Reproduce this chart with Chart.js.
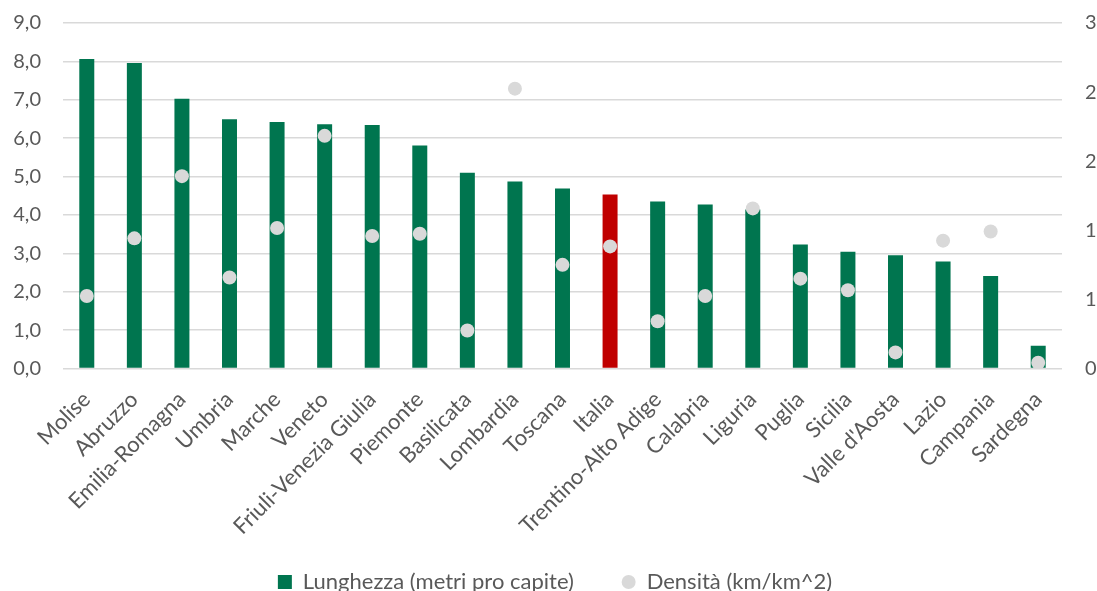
<!DOCTYPE html>
<html>
<head>
<meta charset="utf-8">
<script src="https://cdn.jsdelivr.net/npm/chart.js@4"></script>
<style>
  html, body { margin: 0; padding: 0; background: #fff; }
  #wrap { width: 1097px; height: 591px; }
</style>
</head>
<body>
<div id="wrap"><canvas id="myChart"></canvas></div>
<script>
var regioni = ['Molise', 'Abruzzo', 'Emilia-Romagna', 'Umbria', 'Marche', 'Veneto',
  'Friuli-Venezia Giulia', 'Piemonte', 'Basilicata', 'Lombardia', 'Toscana', 'Italia',
  'Trentino-Alto Adige', 'Calabria', 'Liguria', 'Puglia', 'Sicilia', "Valle d'Aosta",
  'Lazio', 'Campania', 'Sardegna'];
// metri pro capite (asse sinistro)
var lunghezza = [8.06, 7.96, 7.03, 6.49, 6.42, 6.36, 6.34, 5.81, 5.10, 4.87, 4.69, 4.53,
  4.35, 4.27, 4.14, 3.23, 3.04, 2.95, 2.79, 2.41, 0.59];
// km/km^2 (asse destro)
var densita = [0.63, 1.13, 1.67, 0.79, 1.22, 2.02, 1.15, 1.17, 0.33, 2.43, 0.90, 1.06,
  0.41, 0.63, 1.39, 0.78, 0.68, 0.14, 1.11, 1.19, 0.05];
var leftTicks = [0, 9, 1];
var rightTicks = [0, 3, 6];

var verde = '#00754f';
var rosso = '#c00000';
var grigio = '#d9d9d9';

var barColors = [];
for (var i = 0; i < regioni.length; i++) {
  barColors.push(regioni[i] == 'Italia' ? rosso : verde);
}

Chart.defaults.font.family = "Lato, 'Open Sans', sans-serif";
Chart.defaults.color = '#595959';

// sposta la legenda un po' più in basso
var legendShift = {
  id: 'legendShift',
  afterLayout: function (chart) {
    chart.legend.top += 12;
    chart.legend.bottom += 12;
  }
};

var ctx = document.getElementById('myChart').getContext('2d');
var chart = new Chart(ctx, {
  type: 'bar',
  data: {
    labels: regioni,
    datasets: [{
      label: 'Lunghezza (metri pro capite)',
      data: lunghezza,
      backgroundColor: barColors,
      borderWidth: 0,
      barPercentage: 0.315,
      categoryPercentage: 1,
      yAxisID: 'y',
      order: 1
    }, {
      type: 'line',
      label: 'Densità (km/km^2)',
      data: densita,
      showLine: false,
      pointRadius: 7,
      pointHoverRadius: 7,
      pointBackgroundColor: grigio,
      pointBorderWidth: 0,
      backgroundColor: grigio,
      borderColor: grigio,
      yAxisID: 'y2',
      order: 0
    }]
  },
  plugins: [legendShift],
  options: {
    responsive: true,
    maintainAspectRatio: false,
    animation: false,
    layout: { padding: { top: 23, left: 13, right: 0, bottom: 0 }, autoPadding: false },
    plugins: {
      tooltip: { enabled: false },
      legend: {
        position: 'bottom',
        labels: {
          boxWidth: 14,
          boxHeight: 14,
          useBorderRadius: true,
          padding: 14,
          font: { size: 22 },
          generateLabels: function (c) {
            return [
              { text: 'Lunghezza (metri pro capite)      ', fillStyle: verde, strokeStyle: verde, lineWidth: 0, borderRadius: 0, datasetIndex: 0, fontColor: '#595959' },
              { text: 'Densità (km/km^2)', fillStyle: grigio, strokeStyle: grigio, lineWidth: 0, borderRadius: 7, datasetIndex: 1, fontColor: '#595959' }
            ];
          }
        }
      }
    },
    scales: {
      x: {
        grid: { display: false },
        border: { display: false },
        ticks: { font: { size: 22 }, maxRotation: 45, minRotation: 45, autoSkip: false, padding: 10 },
        afterFit: function (scale) {
          scale.paddingLeft = 0;
          scale.paddingRight = 0;
          scale.height = 176.5;
        }
      },
      y: {
        position: 'left',
        min: leftTicks[0],
        max: leftTicks[1],
        ticks: {
          stepSize: leftTicks[2],
          font: { size: 20 },
          padding: 22,
          callback: function (v) { return v.toFixed(1).replace('.', ','); }
        },
        grid: { color: '#d9d9d9', lineWidth: 1.5, drawTicks: false },
        border: { display: false },
        afterFit: function (scale) {
          scale.width = 50;
          scale.paddingTop = 0;
          scale.paddingBottom = 0;
        }
      },
      y2: {
        position: 'right',
        min: rightTicks[0],
        max: rightTicks[1],
        ticks: {
          count: rightTicks[2],
          font: { size: 20 },
          padding: 23,
          callback: function (v) { return Math.round(v).toFixed(0); }
        },
        grid: { display: false, drawTicks: false },
        border: { display: false },
        afterFit: function (scale) {
          scale.width = 35;
          scale.paddingTop = 0;
          scale.paddingBottom = 0;
        }
      }
    }
  }
});
</script>
</body>
</html>
